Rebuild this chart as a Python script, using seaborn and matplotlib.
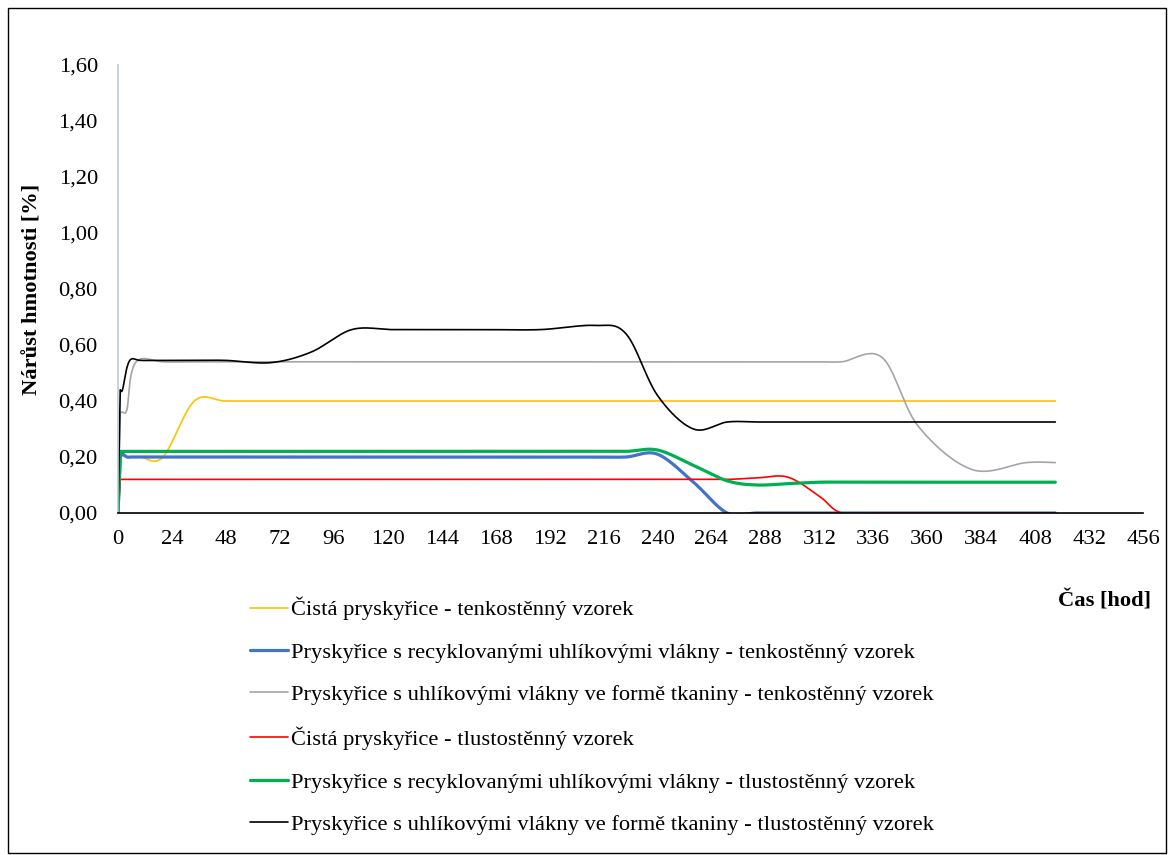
import numpy as np
import matplotlib
matplotlib.use("Agg")
import matplotlib.pyplot as plt
from matplotlib.patches import Rectangle
import seaborn as sns

# Measurement times [h]
hours = [0, 1, 2, 4, 6, 10, 20, 34, 48, 68, 86, 104, 122, 140, 164, 188, 212, 226,
         240, 256, 271, 284, 298, 312, 322, 340, 356, 380, 404, 417]

# Mass gain [%] for each sample
pure_thin = [0, 0.21, 0.205, 0.20, 0.20, 0.20, 0.20, 0.40, 0.40, 0.40, 0.40, 0.40,
             0.40, 0.40, 0.40, 0.40, 0.40, 0.40, 0.40, 0.40, 0.40, 0.40, 0.40,
             0.40, 0.40, 0.40, 0.40, 0.40, 0.40, 0.40]
recycled_thin = [0, 0.20, 0.21, 0.20, 0.20, 0.20, 0.20, 0.20, 0.20, 0.20, 0.20, 0.20,
                 0.20, 0.20, 0.20, 0.20, 0.20, 0.20, 0.21, 0.11, 0.0, 0.0, 0.0,
                 0.0, 0.0, 0.0, 0.0, 0.0, 0.0, 0.0]
fabric_thin = [0, 0.36, 0.36, 0.37, 0.50, 0.55, 0.54, 0.54, 0.54, 0.54, 0.54, 0.54,
               0.54, 0.54, 0.54, 0.54, 0.54, 0.54, 0.54, 0.54, 0.54, 0.54, 0.54,
               0.54, 0.54, 0.555, 0.31, 0.155, 0.18, 0.18]
pure_thick = [0, 0.12, 0.12, 0.12, 0.12, 0.12, 0.12, 0.12, 0.12, 0.12, 0.12, 0.12,
              0.12, 0.12, 0.12, 0.12, 0.12, 0.12, 0.12, 0.12, 0.12, 0.125, 0.128, 0.06,
              0.0, 0.0, 0.0, 0.0, 0.0, 0.0]
recycled_thick = [0, 0.22, 0.22, 0.22, 0.22, 0.22, 0.22, 0.22, 0.22, 0.22, 0.22, 0.22,
                  0.22, 0.22, 0.22, 0.22, 0.22, 0.22, 0.225, 0.17, 0.115, 0.10, 0.105,
                  0.11, 0.11, 0.11, 0.11, 0.11, 0.11, 0.11]
fabric_thick = [0, 0.44, 0.44, 0.52, 0.55, 0.545, 0.545, 0.545, 0.545, 0.537, 0.575, 0.655,
                0.655, 0.655, 0.655, 0.655, 0.67, 0.64, 0.42, 0.30, 0.325, 0.325, 0.325,
                0.325, 0.325, 0.325, 0.325, 0.325, 0.325, 0.325]

labels = [
    "Čistá pryskyřice - tenkostěnný vzorek",
    "Pryskyřice s recyklovanými uhlíkovými vlákny - tenkostěnný vzorek",
    "Pryskyřice s uhlíkovými vlákny ve formě tkaniny - tenkostěnný vzorek",
    "Čistá pryskyřice - tlustostěnný vzorek",
    "Pryskyřice s recyklovanými uhlíkovými vlákny - tlustostěnný vzorek",
    "Pryskyřice s uhlíkovými vlákny ve formě tkaniny - tlustostěnný vzorek",
]
series = [pure_thin, recycled_thin, fabric_thin, pure_thick, recycled_thick, fabric_thick]
colors = ["#FFC000", "#4472C4", "#A5A5A5", "#FF0000", "#00B050", "#000000"]
widths = [1.2, 2.3, 1.2, 1.2, 2.3, 1.2]

x_ticks = list(range(0, 457, 24))
y_ticks = [0.0, 0.2, 0.4, 0.6, 0.8, 1.0, 1.2, 1.4, 1.6]


def smooth_line(x, y, n=30):
    """Straight rise from the origin, then a cubic Bezier smoothed line through
    the remaining points (spreadsheet-style smoothing)."""
    x0, y0 = float(x[0]), float(y[0])
    x = np.asarray(x[1:], float)
    y = np.asarray(y[1:], float)
    px = np.r_[x[0], x, x[-1]]
    py = np.r_[y[0], y, y[-1]]
    t = np.linspace(0, 1, n)[:, None]
    out_x, out_y = [np.array([x0])], [np.array([y0])]
    for k in range(len(x) - 1):
        i = k + 1
        p0 = np.array([px[i], py[i]])
        p3 = np.array([px[i + 1], py[i + 1]])
        c1 = p0 + (p3 - np.array([px[i - 1], py[i - 1]])) / 6
        c2 = p3 - (np.array([px[i + 2], py[i + 2]]) - p0) / 6
        b = ((1 - t) ** 3) * p0 + 3 * ((1 - t) ** 2) * t * c1 \
            + 3 * (1 - t) * t ** 2 * c2 + t ** 3 * p3
        if k > 0:
            b = b[1:]
        out_x.append(b[:, 0])
        out_y.append(b[:, 1])
    return np.concatenate(out_x), np.concatenate(out_y)


sns.set_theme(style="white")
plt.rcParams["font.family"] = ["Liberation Serif", "DejaVu Serif"]
plt.rcParams["text.color"] = "#000000"
plt.rcParams["axes.labelcolor"] = "#000000"
plt.rcParams["xtick.color"] = "#000000"
plt.rcParams["ytick.color"] = "#000000"

FS = 16.2

fig = plt.figure(figsize=(11.69, 8.55), dpi=100)
ax = fig.add_axes([118 / 1169, 1 - 513 / 855, (1143 - 118) / 1169, (513 - 65) / 855])

for vals, lab, col, lw in zip(series, labels, colors, widths):
    sx, sy = smooth_line(hours, vals)
    sns.lineplot(x=sx, y=sy, ax=ax, color=col, linewidth=lw, label=lab,
                 sort=False, estimator=None)

ax.set_xlim(0, 456)
ax.set_ylim(0, 1.6)
ax.set_xticks(x_ticks)
ax.set_xticklabels([str(v) for v in x_ticks])
ax.set_yticks(y_ticks)
ax.set_yticklabels([f"{v:.2f}".replace(".", ",") for v in y_ticks])
ax.tick_params(axis="both", length=0, labelsize=FS, colors="#000000")
ax.tick_params(axis="x", pad=12)
ax.tick_params(axis="y", pad=14.5)
for s in ("top", "right"):
    ax.spines[s].set_visible(False)
ax.spines["left"].set_color("#BCC8DA")
ax.spines["left"].set_linewidth(1.2)
ax.spines["bottom"].set_color("#000000")
ax.spines["bottom"].set_linewidth(1.2)
ax.grid(False)

ax.set_xlabel("")
ax.set_ylabel("Nárůst hmotnosti [%]", fontsize=FS, fontweight="bold")
ax.yaxis.set_label_coords((43 - 118) / 1025, 0.5)
fig.text(1104 / 1169, 1 - 601 / 855, "Čas [hod]", fontsize=FS, fontweight="bold",
         ha="center", va="center")

handles, labs = ax.get_legend_handles_labels()
ax.legend_.remove()
fig.legend(handles, labs, loc="upper left", bbox_to_anchor=(250 / 1169, 1 - 597 / 855),
           frameon=False, fontsize=FS, handlelength=1.7, handletextpad=0.14,
           labelspacing=0.96, borderpad=0, borderaxespad=0)

fig.patches.append(Rectangle((8 / 1169, 2 / 855), 1158 / 1169, 845 / 855,
                             transform=fig.transFigure, fill=False,
                             edgecolor="#000000", linewidth=1.0))

fig.savefig("out.png", dpi=100)
